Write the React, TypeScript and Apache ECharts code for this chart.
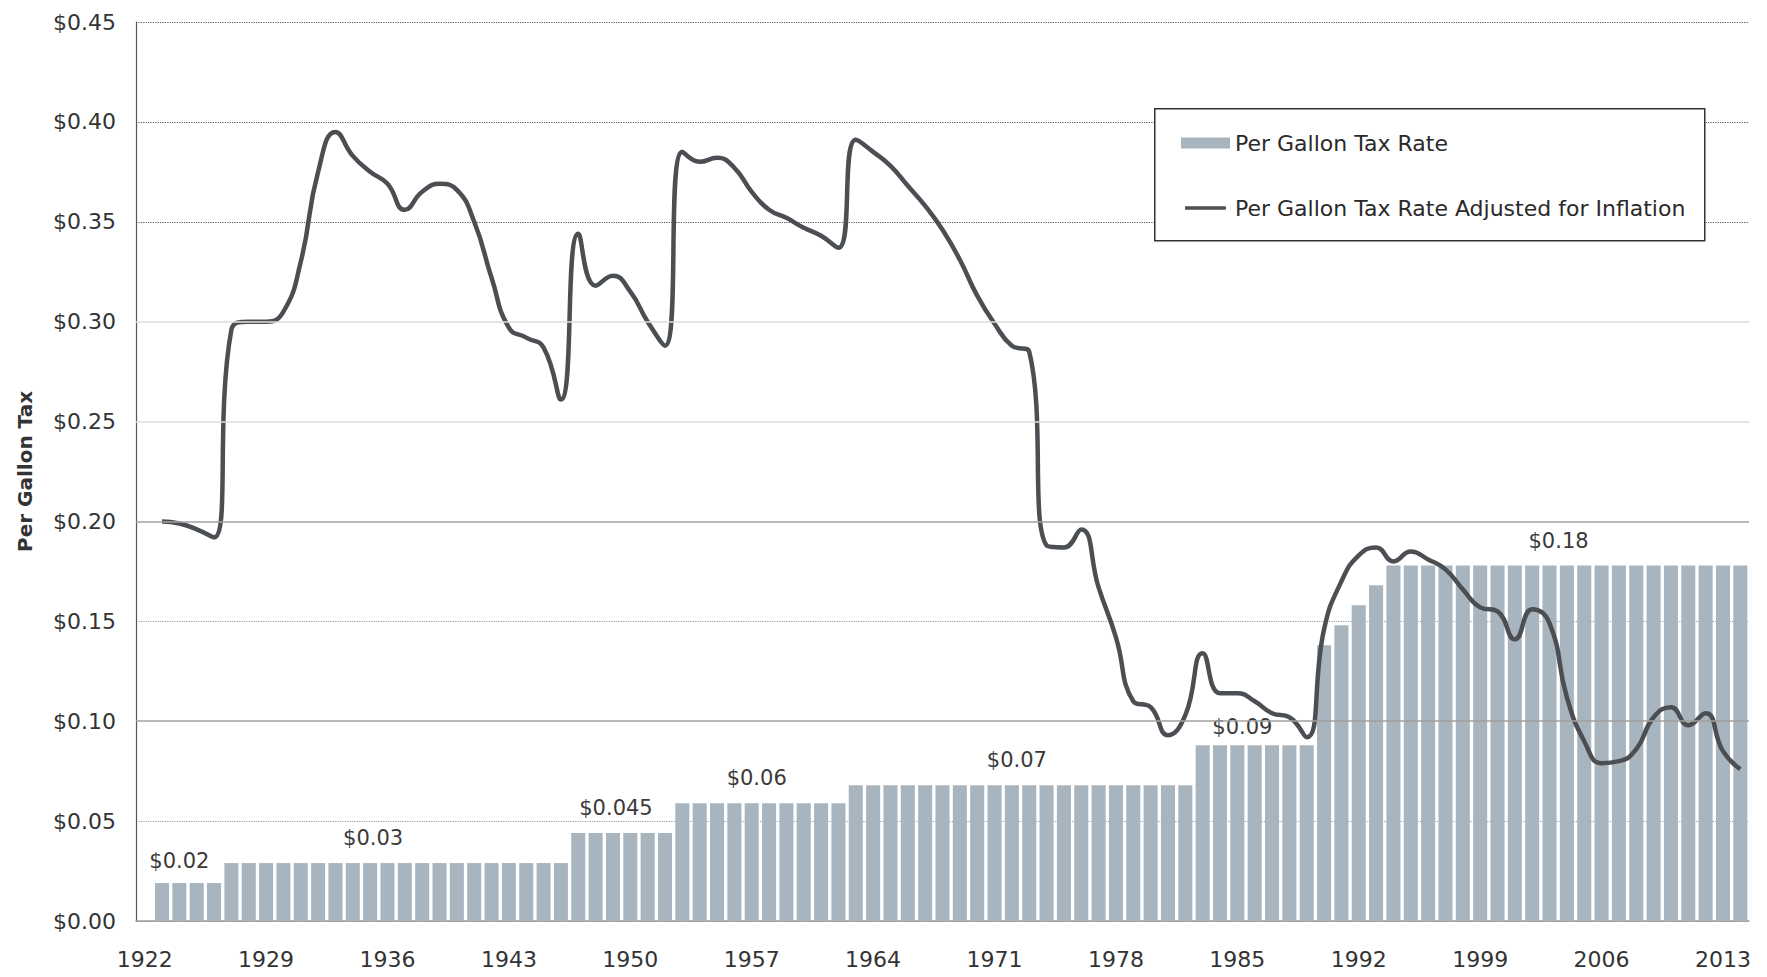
import { useEffect, useRef } from "react";
import * as echarts from "echarts";

const years: string[] = [
  "1922", "1923", "1924", "1925", "1926", "1927", "1928", "1929", "1930", "1931",
  "1932", "1933", "1934", "1935", "1936", "1937", "1938", "1939", "1940", "1941",
  "1942", "1943", "1944", "1945", "1946", "1947", "1948", "1949", "1950", "1951",
  "1952", "1953", "1954", "1955", "1956", "1957", "1958", "1959", "1960", "1961",
  "1962", "1963", "1964", "1965", "1966", "1967", "1968", "1969", "1970", "1971",
  "1972", "1973", "1974", "1975", "1976", "1977", "1978", "1979", "1980", "1981",
  "1982", "1983", "1984", "1985", "1986", "1987", "1988", "1989", "1990", "1991",
  "1992", "1993", "1994", "1995", "1996", "1997", "1998", "1999", "2000", "2001",
  "2002", "2003", "2004", "2005", "2006", "2007", "2008", "2009", "2010", "2011",
  "2012", "2013", "2014",
];

// Per Gallon Tax Rate (nominal)
const taxRate: (number | null)[] = [
  null,
  0.019, 0.019, 0.019, 0.019,
  0.029, 0.029, 0.029, 0.029, 0.029, 0.029, 0.029, 0.029, 0.029, 0.029,
  0.029, 0.029, 0.029, 0.029, 0.029, 0.029, 0.029, 0.029, 0.029, 0.029,
  0.044, 0.044, 0.044, 0.044, 0.044, 0.044,
  0.059, 0.059, 0.059, 0.059, 0.059, 0.059, 0.059, 0.059, 0.059, 0.059,
  0.068, 0.068, 0.068, 0.068, 0.068, 0.068, 0.068, 0.068, 0.068, 0.068,
  0.068, 0.068, 0.068, 0.068, 0.068, 0.068, 0.068, 0.068, 0.068, 0.068,
  0.088, 0.088, 0.088, 0.088, 0.088, 0.088, 0.088,
  0.138, 0.148, 0.158, 0.168,
  0.178, 0.178, 0.178, 0.178, 0.178, 0.178, 0.178, 0.178, 0.178, 0.178,
  0.178, 0.178, 0.178, 0.178, 0.178, 0.178, 0.178, 0.178, 0.178, 0.178, 0.178,
];

// Per Gallon Tax Rate Adjusted for Inflation
const adjusted: (number | null)[] = [
  null,
  0.200, 0.199, 0.196, 0.192,
  0.296, 0.300, 0.300, 0.305, 0.330, 0.375, 0.395, 0.383, 0.375, 0.369,
  0.356, 0.365, 0.369, 0.366, 0.350, 0.322, 0.297, 0.292, 0.287, 0.261,
  0.344, 0.318, 0.323, 0.315, 0.300, 0.288,
  0.385, 0.380, 0.382, 0.377, 0.365, 0.356, 0.352, 0.347, 0.343, 0.337,
  0.391, 0.385, 0.378, 0.368, 0.358, 0.346, 0.331, 0.313, 0.299, 0.288, 0.285,
  0.188, 0.187, 0.196, 0.167, 0.142, 0.110, 0.107, 0.093, 0.103,
  0.134, 0.114, 0.114, 0.110, 0.104, 0.102, 0.092,
  0.146, 0.170, 0.183, 0.187, 0.180, 0.185, 0.181, 0.176, 0.166, 0.157,
  0.155, 0.141, 0.156, 0.149, 0.112, 0.090, 0.079, 0.080, 0.086, 0.102,
  0.107, 0.098, 0.104, 0.085, 0.076,
];

// Rate annotations: [year, text, horizontal offset px, distance px]
const rateLabels: [string, string, number, number][] = [
  ["1924", "$0.02", 0, 12],
  ["1935", "$0.03", 3, 15],
  ["1949", "$0.045", 3, 15],
  ["1957", "$0.06", 5, 15],
  ["1972", "$0.07", 5, 15],
  ["1985", "$0.09", 5, 8],
  ["2003", "$0.18", 9, 14],
];

const FONT = "DejaVu Sans";
const BAR_COLOR = "#a9b5be";
const LINE_COLOR = "#4b4f54";
const LINE_ICON =
  "path://M0,0L0.05,0L0,0.05Z M0,4.6L49,4.6L49,8.6L0,8.6Z M49,13.2L48.95,13.2L49,13.15Z";

export default function App() {
  const ref = useRef<HTMLDivElement>(null);

  useEffect(() => {
    if (!ref.current) return;
    const chart = echarts.init(ref.current, undefined, { renderer: "svg" });

    const barData = taxRate.map((v, i) => {
      const lab = rateLabels.find((l) => l[0] === years[i]);
      if (!lab) return v;
      return {
        value: v,
        label: {
          show: true,
          position: "top",
          formatter: lab[1],
          offset: [lab[2], 0],
          distance: lab[3],
          fontFamily: FONT,
          fontSize: 21,
          color: "#3a3a3a",
        },
      };
    });

    chart.setOption({
      animation: false,
      backgroundColor: "#ffffff",
      grid: { left: 136, top: 22, width: 1613, height: 899, containLabel: false },
      legend: {
        orient: "vertical",
        left: 1181,
        top: 131,
        padding: 0,
        itemGap: 41,
        itemWidth: 49,
        itemHeight: 11,
        textStyle: { fontFamily: FONT, fontSize: 22, color: "#2a2a2a", lineHeight: 24 },
        data: [
          { name: "Per Gallon Tax Rate", icon: "rect" },
          { name: "Per Gallon Tax Rate Adjusted for Inflation", icon: LINE_ICON },
        ],
      },
      graphic: [
        {
          type: "rect",
          left: 1154,
          top: 108,
          z: 3,
          shape: { width: 550, height: 132 },
          style: { fill: "#ffffff", stroke: "#333333", lineWidth: 1.5 },
        },
      ],
      xAxis: {
        type: "category",
        data: years,
        boundaryGap: true,
        axisTick: { show: false },
        axisLine: { show: true, lineStyle: { color: "#9a9a9a", width: 1.5 } },
        axisLabel: {
          interval: 6,
          fontFamily: FONT,
          fontSize: 22,
          color: "#333333",
          margin: 27,
        },
        splitLine: { show: false },
      },
      yAxis: {
        type: "value",
        min: 0,
        max: 0.45,
        interval: 0.05,
        name: "Per Gallon Tax",
        nameLocation: "middle",
        nameGap: 101,
        nameTextStyle: { fontFamily: FONT, fontSize: 20, fontWeight: "bold", color: "#333333" },
        axisLine: { show: true, lineStyle: { color: "#555555", width: 1.2 } },
        axisTick: { show: false },
        axisLabel: {
          fontFamily: FONT,
          fontSize: 22,
          color: "#333333",
          margin: 20,
          formatter: (v: number) => "$" + v.toFixed(2),
        },
        splitLine: {
          show: true,
          lineStyle: {
            type: "dotted",
            width: 1.2,
            color: [
              "#9a9a9a",
              "#9a9a9a",
              "rgba(0,0,0,0)",
              "#9a9a9a",
              "rgba(0,0,0,0)",
              "rgba(0,0,0,0)",
              "rgba(0,0,0,0)",
              "#555555",
              "#555555",
              "#555555",
            ],
          },
        },
      },
      series: [
        {
          name: "gridlines",
          type: "line",
          data: [],
          z: 1,
          silent: true,
          markLine: {
            silent: true,
            symbol: "none",
            label: { show: false },
            animation: false,
            data: [
              { yAxis: 0.1, lineStyle: { color: "#a0a0a0", type: "solid", width: 1.5 } },
              { yAxis: 0.2, lineStyle: { color: "#a0a0a0", type: "solid", width: 1.5 } },
              { yAxis: 0.25, lineStyle: { color: "#dddddd", type: "solid", width: 1.5 } },
              { yAxis: 0.3, lineStyle: { color: "#dddddd", type: "solid", width: 1.5 } },
            ],
          },
        },
        {
          name: "Per Gallon Tax Rate",
          type: "bar",
          data: barData,
          barCategoryGap: "19%",
          itemStyle: { color: BAR_COLOR },
          z: 2,
        },
        {
          name: "Per Gallon Tax Rate Adjusted for Inflation",
          type: "line",
          data: adjusted,
          smooth: 0.5,
          showSymbol: false,
          symbol: "none",
          lineStyle: { color: LINE_COLOR, width: 4.5 },
          itemStyle: { color: LINE_COLOR },
          z: 3,
        },
      ],
    });

    return () => chart.dispose();
  }, []);

  return (
    <div
      ref={ref}
      style={{ position: "fixed", left: 0, top: 0, width: "1767px", height: "977px", background: "#fff" }}
    />
  );
}
